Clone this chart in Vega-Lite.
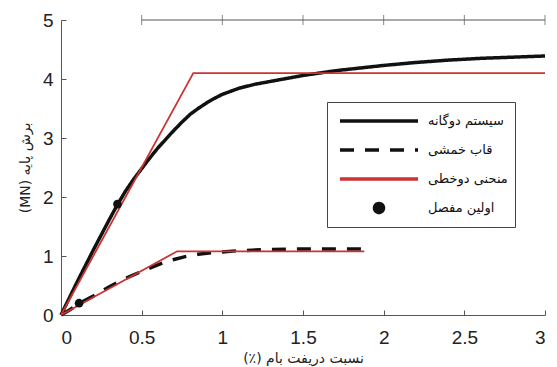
{
  "$schema": "https://vega.github.io/schema/vega-lite/v6.json",
  "width": 484,
  "height": 295,
  "autosize": {"type": "none"},
  "padding": {"left": 61, "top": 20, "right": 12, "bottom": 52},
  "background": "white",
  "config": {
    "view": {"stroke": null},
    "axis": {
      "grid": false,
      "domainColor": "#555",
      "tickColor": "#555",
      "tickSize": -5,
      "labelFont": "Liberation Sans",
      "labelFontSize": 19,
      "labelColor": "#222",
      "titleFont": "DejaVu Sans",
      "titleFontSize": 14,
      "titleFontWeight": "normal",
      "titleColor": "#222"
    }
  },
  "datasets": {
    "frames": [
      {"series": "سیستم دوگانه", "drift": 0, "shear": 0},
      {"series": "سیستم دوگانه", "drift": 0.05, "shear": 0.28},
      {"series": "سیستم دوگانه", "drift": 0.1, "shear": 0.56},
      {"series": "سیستم دوگانه", "drift": 0.15, "shear": 0.83},
      {"series": "سیستم دوگانه", "drift": 0.2, "shear": 1.1},
      {"series": "سیستم دوگانه", "drift": 0.25, "shear": 1.36},
      {"series": "سیستم دوگانه", "drift": 0.3, "shear": 1.62},
      {"series": "سیستم دوگانه", "drift": 0.35, "shear": 1.87},
      {"series": "سیستم دوگانه", "drift": 0.4, "shear": 2.1},
      {"series": "سیستم دوگانه", "drift": 0.45, "shear": 2.3},
      {"series": "سیستم دوگانه", "drift": 0.5, "shear": 2.48},
      {"series": "سیستم دوگانه", "drift": 0.55, "shear": 2.66},
      {"series": "سیستم دوگانه", "drift": 0.6, "shear": 2.83},
      {"series": "سیستم دوگانه", "drift": 0.65, "shear": 2.98},
      {"series": "سیستم دوگانه", "drift": 0.7, "shear": 3.13},
      {"series": "سیستم دوگانه", "drift": 0.75, "shear": 3.27},
      {"series": "سیستم دوگانه", "drift": 0.8, "shear": 3.4},
      {"series": "سیستم دوگانه", "drift": 0.85, "shear": 3.5},
      {"series": "سیستم دوگانه", "drift": 0.9, "shear": 3.59},
      {"series": "سیستم دوگانه", "drift": 0.95, "shear": 3.67},
      {"series": "سیستم دوگانه", "drift": 1.0, "shear": 3.74},
      {"series": "سیستم دوگانه", "drift": 1.1, "shear": 3.84},
      {"series": "سیستم دوگانه", "drift": 1.2, "shear": 3.91},
      {"series": "سیستم دوگانه", "drift": 1.3, "shear": 3.96},
      {"series": "سیستم دوگانه", "drift": 1.4, "shear": 4.01},
      {"series": "سیستم دوگانه", "drift": 1.5, "shear": 4.06},
      {"series": "سیستم دوگانه", "drift": 1.6, "shear": 4.1},
      {"series": "سیستم دوگانه", "drift": 1.7, "shear": 4.14},
      {"series": "سیستم دوگانه", "drift": 1.8, "shear": 4.17},
      {"series": "سیستم دوگانه", "drift": 1.9, "shear": 4.2},
      {"series": "سیستم دوگانه", "drift": 2.0, "shear": 4.23},
      {"series": "سیستم دوگانه", "drift": 2.2, "shear": 4.28},
      {"series": "سیستم دوگانه", "drift": 2.4, "shear": 4.32},
      {"series": "سیستم دوگانه", "drift": 2.6, "shear": 4.35},
      {"series": "سیستم دوگانه", "drift": 2.8, "shear": 4.37},
      {"series": "سیستم دوگانه", "drift": 3.0, "shear": 4.39},
      {"series": "قاب خمشی", "drift": 0, "shear": 0},
      {"series": "قاب خمشی", "drift": 0.05, "shear": 0.08},
      {"series": "قاب خمشی", "drift": 0.11, "shear": 0.19},
      {"series": "قاب خمشی", "drift": 0.2, "shear": 0.32},
      {"series": "قاب خمشی", "drift": 0.3, "shear": 0.48},
      {"series": "قاب خمشی", "drift": 0.4, "shear": 0.62},
      {"series": "قاب خمشی", "drift": 0.5, "shear": 0.74},
      {"series": "قاب خمشی", "drift": 0.6, "shear": 0.85},
      {"series": "قاب خمشی", "drift": 0.65, "shear": 0.9},
      {"series": "قاب خمشی", "drift": 0.7, "shear": 0.94},
      {"series": "قاب خمشی", "drift": 0.77, "shear": 0.99},
      {"series": "قاب خمشی", "drift": 0.85, "shear": 1.03},
      {"series": "قاب خمشی", "drift": 0.95, "shear": 1.06},
      {"series": "قاب خمشی", "drift": 1.1, "shear": 1.09},
      {"series": "قاب خمشی", "drift": 1.3, "shear": 1.11},
      {"series": "قاب خمشی", "drift": 1.5, "shear": 1.12},
      {"series": "قاب خمشی", "drift": 1.7, "shear": 1.12},
      {"series": "قاب خمشی", "drift": 1.88, "shear": 1.12}
    ],
    "bilinear": [
      {"series": "منحنی دوخطی", "curve": "dual", "drift": 0, "shear": 0},
      {"series": "منحنی دوخطی", "curve": "dual", "drift": 0.82, "shear": 4.1},
      {"series": "منحنی دوخطی", "curve": "dual", "drift": 3.0, "shear": 4.1},
      {"series": "منحنی دوخطی", "curve": "moment", "drift": 0, "shear": 0},
      {"series": "منحنی دوخطی", "curve": "moment", "drift": 0.72, "shear": 1.08},
      {"series": "منحنی دوخطی", "curve": "moment", "drift": 1.88, "shear": 1.08}
    ],
    "hinges": [
      {"series": "اولین مفصل", "drift": 0.35, "shear": 1.88},
      {"series": "اولین مفصل", "drift": 0.112, "shear": 0.2}
    ],
    "topticks": [
      {"drift": 0.5, "level": 5}, {"drift": 1, "level": 5}, {"drift": 1.5, "level": 5}, {"drift": 2, "level": 5}, {"drift": 2.5, "level": 5}, {"drift": 3, "level": 5}
    ]
  },
  "layer": [
    {
      "data": {"name": "frames"},
      "mark": {"type": "line", "strokeCap": "butt"},
      "encoding": {
        "x": {"field": "drift", "type": "quantitative", "scale": {"domain": [0, 3], "nice": false},
          "axis": {"orient": "bottom", "values": [0, 0.5, 1, 1.5, 2, 2.5, 3], "format": "~g", "labelPadding": 18,
            "title": "\u202bنسبت دریفت بام (٪)\u202c", "titlePadding": 4}},
        "y": {"field": "shear", "type": "quantitative", "scale": {"domain": [0, 5], "nice": false},
          "axis": {"orient": "left", "values": [0, 1, 2, 3, 4, 5], "format": "d", "labelPadding": 13,
            "title": "\u202bبرش پایه (MN)\u202c", "titlePadding": 10}},
        "color": {
          "field": "series", "type": "nominal",
          "scale": {"domain": ["سیستم دوگانه", "قاب خمشی", "منحنی دوخطی", "اولین مفصل"], "range": ["#111111", "#111111", "#cc3333", "#111111"]},
          "legend": {
            "title": null,
            "orient": "none",
            "legendX": 266,
            "legendY": 82,
            "direction": "vertical",
            "columns": 1,
            "padding": 7,
            "strokeColor": "#444",
            "fillColor": "white",
            "cornerRadius": 0,
            "clipHeight": 24,
            "rowPadding": 5,
            "symbolSize": 400,
            "symbolOffset": 33,
            "labelOffset": 37,
            "labelFont": "DejaVu Sans",
            "labelFontSize": 13,
            "labelColor": "#111",
            "labelLimit": 300,
            "labelExpr": "datum.label + '\u00a0\u00a0\u00a0\u00a0'",
            "encode": {
              "symbols": {
                "update": {
                  "shape": {"signal": "datum.value === 'اولین مفصل' ? 'M-0.45,0A0.45,0.45,0,1,1,0.45,0A0.45,0.45,0,1,1,-0.45,0Z' : 'M-3.9,0H3.9'"},
                  "fill": {"signal": "datum.value === 'اولین مفصل' ? '#111' : 'transparent'"},
                  "stroke": {"signal": "datum.value === 'منحنی دوخطی' ? '#cc3333' : (datum.value === 'اولین مفصل' ? 'transparent' : '#111')"},
                  "strokeWidth": {"signal": "datum.value === 'منحنی دوخطی' ? 2 : 4"},
                  "strokeDash": {"signal": "datum.value === 'قاب خمشی' ? [13, 10] : [1, 0]"},
                  "size": {"value": 400},
                  "opacity": {"value": 1}
                }
              }
            }
          }
        },
        "strokeDash": {
          "field": "series", "type": "nominal", "legend": null,
          "scale": {"domain": ["سیستم دوگانه", "قاب خمشی", "منحنی دوخطی", "اولین مفصل"], "range": [[1, 0], [14, 11], [1, 0], [1, 0]]}
        },
        "strokeWidth": {
          "field": "series", "type": "nominal", "legend": null,
          "scale": {"domain": ["سیستم دوگانه", "قاب خمشی", "منحنی دوخطی", "اولین مفصل"], "range": [3.5, 3.5, 1.8, 1]}
        }
      }
    },
    {
      "data": {"name": "bilinear"},
      "mark": {"type": "line", "strokeWidth": 1.8},
      "encoding": {
        "x": {"field": "drift", "type": "quantitative", "axis": null},
        "y": {"field": "shear", "type": "quantitative", "axis": null},
        "detail": {"field": "curve", "type": "nominal"},
        "color": {"field": "series", "type": "nominal"}
      }
    },
    {
      "data": {"name": "hinges"},
      "mark": {"type": "point", "filled": true, "size": 75, "opacity": 1},
      "encoding": {
        "x": {"field": "drift", "type": "quantitative", "axis": null},
        "y": {"field": "shear", "type": "quantitative", "axis": null},
        "color": {"field": "series", "type": "nominal"}
      }
    },
    {
      "data": {"name": "topticks"},
      "mark": {"type": "tick", "color": "#555", "orient": "vertical", "size": 10, "thickness": 1},
      "encoding": {
        "x": {"field": "drift", "type": "quantitative", "axis": null},
        "y": {"field": "level", "type": "quantitative", "axis": null}
      }
    },
    {
      "data": {"name": "topticks"},
      "mark": {"type": "line", "color": "#555", "strokeWidth": 1.2},
      "encoding": {
        "x": {"field": "drift", "type": "quantitative", "axis": null},
        "y": {"field": "level", "type": "quantitative", "axis": null}
      }
    }
  ],
  "resolve": {"axis": {"x": "independent", "y": "independent"}}
}
